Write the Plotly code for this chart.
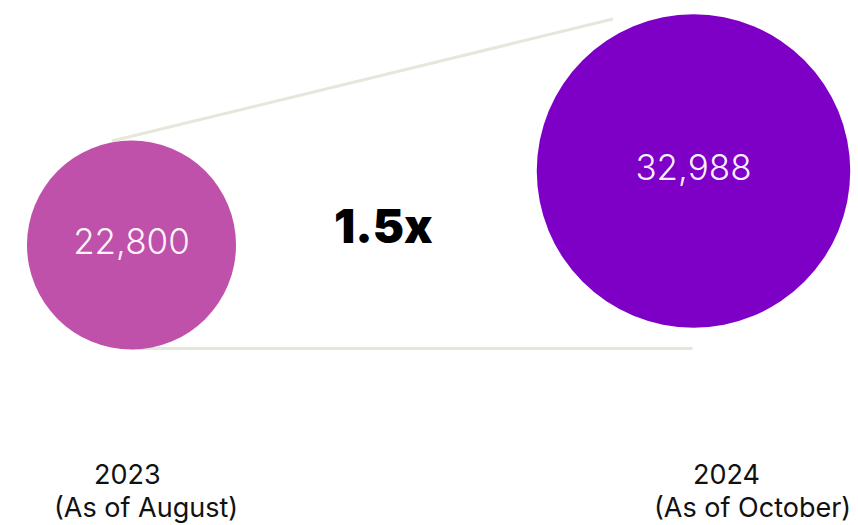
import plotly.graph_objects as go

# Data
periods = ["2023", "2024"]
period_notes = ["(As of August)", "(As of October)"]
counts = [22800, 32988]
growth_multiple = 1.5

# Layout / style (pixel space: x right, y down)
W, H = 858, 525
base_diameter = 209
centers_x = [131.5, 693.5]
centers_y = [245, 171]
colors = ["#C051AB", "#7E00C7"]
line_color = "#E6E6DA"

diameters = [base_diameter, base_diameter * growth_multiple]
radii = [d / 2 for d in diameters]

fig = go.Figure()

# connector lines
bottom_y = centers_y[0] + radii[0] - 1
fig.add_trace(go.Scatter(
    x=[centers_x[0], centers_x[1] - 1], y=[bottom_y, bottom_y],
    mode="lines", line=dict(color=line_color, width=3),
    hoverinfo="skip", showlegend=False))
fig.add_trace(go.Scatter(
    x=[112, 613], y=[141, 19],
    mode="lines", line=dict(color=line_color, width=3),
    hoverinfo="skip", showlegend=False))

# bubbles
fig.add_trace(go.Scatter(
    x=centers_x, y=centers_y, mode="markers+text",
    marker=dict(size=diameters, sizemode="diameter", color=colors,
                line=dict(width=0), opacity=1),
    text=[f"{v:,}" for v in counts],
    textposition="middle center",
    textfont=dict(family="Inter", size=35, color="rgba(255,255,255,0.96)",
                  weight=300),
    hoverinfo="skip", showlegend=False))

# growth label
fig.add_annotation(x=383, y=225, text=f"{growth_multiple:.1f}x", showarrow=False,
                   font=dict(family="Inter", size=47, color="#000000", weight=900),
                   xanchor="center", yanchor="middle")

# period labels
year_x = [127, 726]
note_x = [146, 752]
for i in range(2):
    fig.add_annotation(x=year_x[i], y=474, text=periods[i], showarrow=False,
                       font=dict(family="Inter", size=27, color="#111111"),
                       xanchor="center", yanchor="middle")
    fig.add_annotation(x=note_x[i], y=507, text=period_notes[i], showarrow=False,
                       font=dict(family="Inter", size=27, color="#111111"),
                       xanchor="center", yanchor="middle")

fig.update_layout(
    width=W, height=H,
    margin=dict(l=0, r=0, t=0, b=0),
    paper_bgcolor="white", plot_bgcolor="white",
    xaxis=dict(range=[0, W], visible=False, fixedrange=True),
    yaxis=dict(range=[H, 0], visible=False, fixedrange=True),
)

fig.write_html("out.html")
